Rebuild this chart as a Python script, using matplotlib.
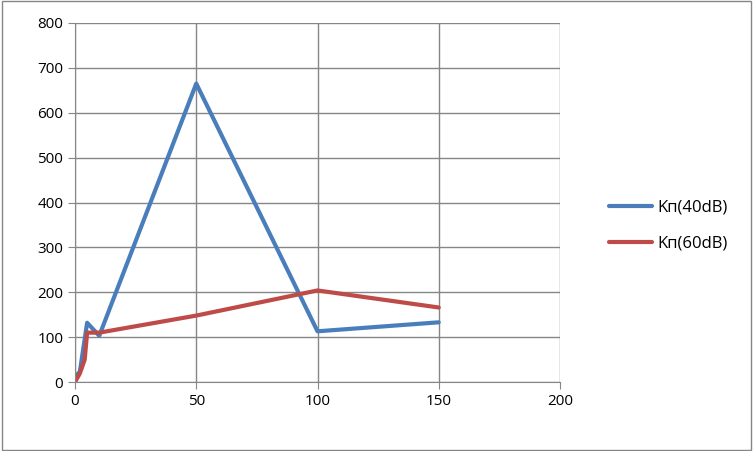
import matplotlib.pyplot as plt
from matplotlib.patches import Rectangle

plt.rcParams['font.family'] = ['Open Sans', 'DejaVu Sans']

x40 = [0, 2, 5, 10, 50, 100, 150]
kp40 = [12, 23, 132, 103, 665, 113, 133]
x60 = [0, 2, 4, 5, 10, 50, 100, 150]
kp60 = [0, 19, 50, 110, 110, 148, 204, 166]
names = ['Kп(40dB)', 'Kп(60dB)']

fig = plt.figure(figsize=(7.53, 4.51), dpi=100)
ax = fig.add_axes([75 / 753, 1 - 382 / 451, 485 / 753, 359 / 451])

ax.plot(x40, kp40, color='#4a7ebb', lw=3, label=names[0], solid_capstyle='round')
ax.plot(x60, kp60, color='#be4b48', lw=3, label=names[1], solid_capstyle='round')

ax.set_xlim(0, 200)
ax.set_ylim(0, 800)
ax.set_xticks(range(0, 201, 50))
ax.set_yticks(range(0, 801, 100))
ax.grid(axis='both', color='#868686', lw=1)
ax.set_axisbelow(True)
for s in ['top', 'right']:
    ax.spines[s].set_visible(False)
for s in ['left', 'bottom']:
    ax.spines[s].set_color('#868686')
ax.tick_params(colors='#868686', labelcolor='black', labelsize=11, length=5)

ax.legend(loc='center left', bbox_to_anchor=(594 / 753, 0.5), bbox_transform=fig.transFigure,
          frameon=False, fontsize=12, handlelength=2.6, handletextpad=0.3, labelspacing=1.2)

fig.patches.append(Rectangle((0.002, 0.002), 0.995, 0.995, transform=fig.transFigure,
                             fill=False, edgecolor='#868686', lw=1))

fig.savefig('out.png', dpi=100)
